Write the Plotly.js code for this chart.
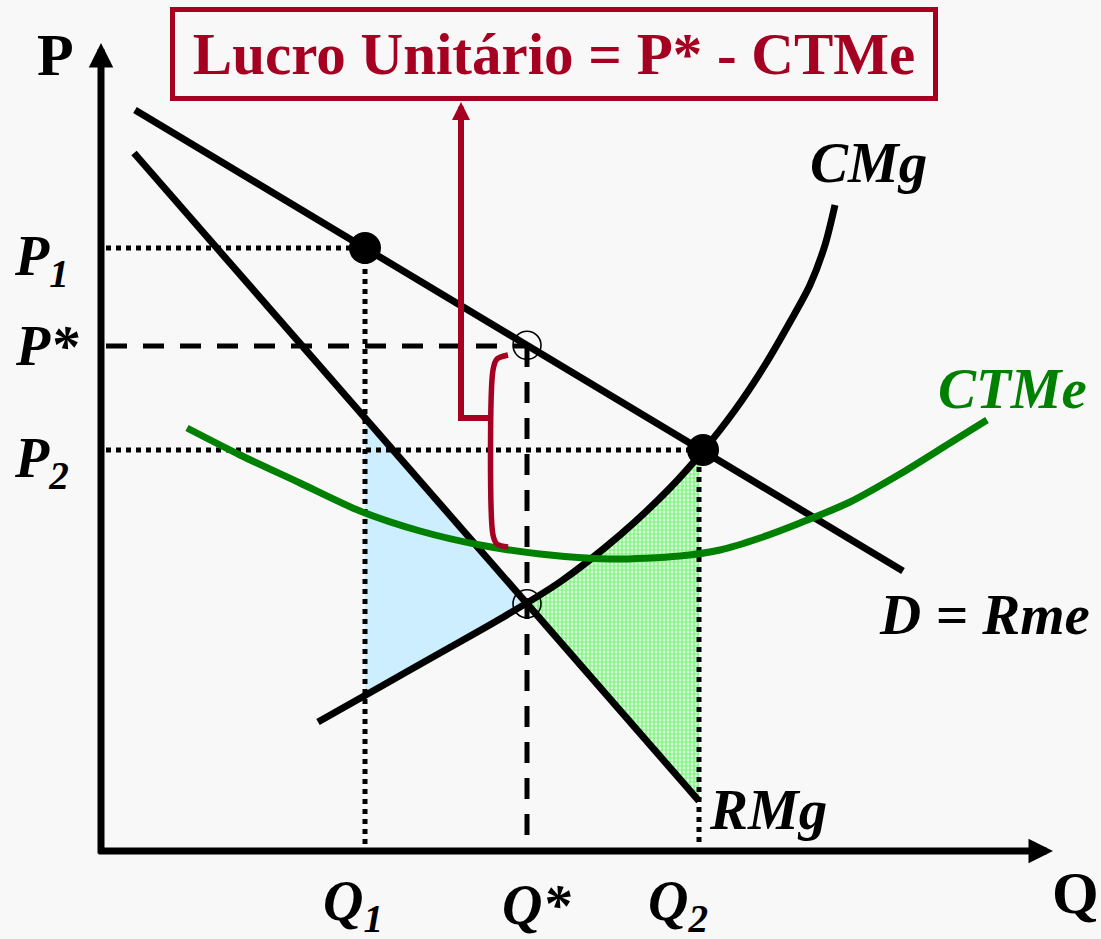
<!DOCTYPE html>
<html>
<head>
<meta charset="utf-8">
<script src="https://cdn.plot.ly/plotly-3.0.1.min.js"></script>
<style>
html,body{margin:0;padding:0;background:#f8f8f8;}
#chart{width:1101px;height:939px;}
</style>
</head>
<body>
<div id="chart"></div>
<script>
// ---- Data (pixel-space coordinates; y grows downward) ----
const demandQ = [135, 903];
const demandP = [110, 571];
const rmgQ = [134, 699];
const rmgP = [153, 801];
const cmgQ = [318, 380, 440, 500, 560, 620, 670, 703, 735, 765, 790, 810, 825, 835];
const cmgP = [722, 687, 653, 619, 582, 535, 488, 451, 410, 365, 322, 285, 245, 205];
const ctmeQ = [187, 240, 300, 360, 420, 480, 540, 610, 680, 720, 760, 800, 850, 900, 950, 987];
const ctmeP = [428, 455, 483, 511, 531, 545, 554, 559, 556, 550, 538, 523, 502, 474, 443, 420];
const qLevels = [365, 527, 699];          // Q1, Q*, Q2
const qLabels = ['Q<sub>1</sub>', 'Q*', 'Q<sub>2</sub>'];
const pLevels = [248, 346, 450];          // P1, P*, P2
const pLabels = ['P<sub>1</sub>', 'P*', 'P<sub>2</sub>'];
const originQ = 101, originP = 851;
const bracketQ = [508, 497, 493, 493, 497, 508];
const bracketP = [355, 359, 370, 535, 544, 547];
const connectorQ = [461, 461, 493];
const connectorP = [112, 418, 418];
const titleText = 'Lucro Unitário = P* - CTMe';

// ---- helpers ----
function interp(xs, ys, x) {
  for (let i = 0; i < xs.length - 1; i++) {
    if (x >= xs[i] && x <= xs[i + 1]) {
      const t = (x - xs[i]) / (xs[i + 1] - xs[i]);
      return ys[i] + t * (ys[i + 1] - ys[i]);
    }
  }
  return NaN;
}
const [q1, qs, q2] = qLevels;
const [p1, ps, p2] = pLevels;

const RED = '#a50021', GREEN = '#008000', FONT = 'Liberation Serif, Times New Roman, serif';

// blue region: between Q1, RMg and CMg
const blueQ = [q1, qs], blueP = [interp(rmgQ, rmgP, q1), interp(rmgQ, rmgP, qs)];
for (let i = cmgQ.length - 1; i >= 0; i--) if (cmgQ[i] < qs && cmgQ[i] > q1) { blueQ.push(cmgQ[i]); blueP.push(cmgP[i]); }
blueQ.push(q1); blueP.push(interp(cmgQ, cmgP, q1));

// green region: between CMg, Q2 and RMg
const greenQ = [qs], greenP = [interp(rmgQ, rmgP, qs)];
for (let i = 0; i < cmgQ.length; i++) if (cmgQ[i] > qs && cmgQ[i] < q2) { greenQ.push(cmgQ[i]); greenP.push(cmgP[i]); }
greenQ.push(q2, q2); greenP.push(interp(cmgQ, cmgP, q2), interp(rmgQ, rmgP, q2));

const line = (x, y, color, width, dash, shape) => ({
  x, y, mode: 'lines', type: 'scatter', hoverinfo: 'skip', showlegend: false,
  line: {color, width, dash: dash || 'solid', shape: shape || 'linear', smoothing: 0.8}
});

const traces = [
  {x: blueQ, y: blueP, type: 'scatter', mode: 'none', fill: 'toself', fillcolor: '#cdeeff', showlegend: false, hoverinfo: 'skip'},
  {x: greenQ, y: greenP, type: 'scatter', mode: 'none', fill: 'toself', fillcolor: '#ffffff',
   fillpattern: {shape: '.', fgcolor: '#88f588', bgcolor: '#ffffff', size: 4, solidity: 0.7},
   showlegend: false, hoverinfo: 'skip'},
  // guide lines
  line([originQ + 5, q1, q1], [p1, p1, originP - 4], 'black', 5, 'dot'),
  line([originQ + 5, q2, q2], [p2, p2, originP - 4], 'black', 5, 'dot'),
  line([originQ + 5, qs], [ps, ps], 'black', 5, '21px,16px'),
  line([qs, qs], [ps, originP - 4], 'black', 5, '21px,15px'),
  // curves
  line(demandQ, demandP, 'black', 7),
  line(rmgQ, rmgP, 'black', 7),
  line(cmgQ, cmgP, 'black', 7, null, 'spline'),
  line(ctmeQ, ctmeP, GREEN, 7, null, 'spline'),
  // red connector and bracket
  line(connectorQ, connectorP, RED, 6),
  line(bracketQ, bracketP, RED, 5.5, null, 'spline'),
  // points
  {x: [q1, 703], y: [interp(demandQ, demandP, q1), p2], type: 'scatter', mode: 'markers', showlegend: false, hoverinfo: 'skip',
   marker: {color: 'black', size: 32, line: {width: 0}}},
  {x: [qs, qs], y: [interp(demandQ, demandP, qs), interp(rmgQ, rmgP, qs)], type: 'scatter', mode: 'markers', showlegend: false, hoverinfo: 'skip',
   marker: {color: 'black', size: 28, symbol: 'circle-open', line: {width: 1.6, color: 'black'}}}
];

const ann = [];
const txt = (x, y, text, size, color, extra) => Object.assign({
  x, y, xref: 'x', yref: 'y', text, showarrow: false, xanchor: 'center', yanchor: 'middle',
  font: {family: FONT, size, color: color || 'black'}
}, extra || {});
// axes arrows
ann.push({x: 1053, y: originP, ax: originQ - 4, ay: originP, xref: 'x', yref: 'y', axref: 'x', ayref: 'y', text: '',
  showarrow: true, arrowhead: 2, arrowwidth: 7, arrowsize: 0.7, arrowcolor: 'black', standoff: 0});
ann.push({x: originQ, y: 43, ax: originQ, ay: originP + 4, xref: 'x', yref: 'y', axref: 'x', ayref: 'y', text: '',
  showarrow: true, arrowhead: 2, arrowwidth: 7, arrowsize: 0.7, arrowcolor: 'black', standoff: 0});
// red arrow head
ann.push({x: connectorQ[0], y: 102, ax: connectorQ[0], ay: 170, xref: 'x', yref: 'y', axref: 'x', ayref: 'y', text: '',
  showarrow: true, arrowhead: 2, arrowwidth: 6, arrowsize: 0.6, arrowcolor: RED, standoff: 0});
// axis names
ann.push(txt(55, 55, '<b>P</b>', 60));
ann.push(txt(1075, 893, '<b>Q</b>', 60));
// level labels
const pLabelX = [41, 47, 41];
const pLabelY = [p1 + 12, ps, p2 + 12];
pLabels.forEach((t, i) => ann.push(txt(pLabelX[i], pLabelY[i], '<b><i>' + t + '</i></b>', 56)));
const qLabelX = [353, 536, 678];
qLabels.forEach((t, i) => ann.push(txt(qLabelX[i], 905, '<b><i>' + t + '</i></b>', 56)));
// curve labels
ann.push(txt(868, 162, '<b><i>CMg</i></b>', 57));
ann.push(txt(1012, 388, '<b><i>CTMe</i></b>', 57, GREEN));
ann.push(txt(984, 614, '<b><i>D = Rme</i></b>', 57));
ann.push(txt(768, 809, '<b><i>RMg</i></b>', 57));
// title box
ann.push(txt(554, 54, '<b>' + titleText + '</b>', 59, RED,
  {bordercolor: RED, borderwidth: 5, borderpad: 0, width: 758, height: 84, bgcolor: 'rgba(0,0,0,0)'}));

const layout = {
  width: 1101, height: 939,
  margin: {l: 0, r: 0, t: 0, b: 0},
  paper_bgcolor: '#f8f8f8', plot_bgcolor: '#f8f8f8',
  xaxis: {range: [0, 1101], visible: false, fixedrange: true},
  yaxis: {range: [939, 0], visible: false, fixedrange: true},
  annotations: ann,
  showlegend: false
};
Plotly.newPlot('chart', traces, layout, {displayModeBar: false, staticPlot: true});
</script>
</body>
</html>
